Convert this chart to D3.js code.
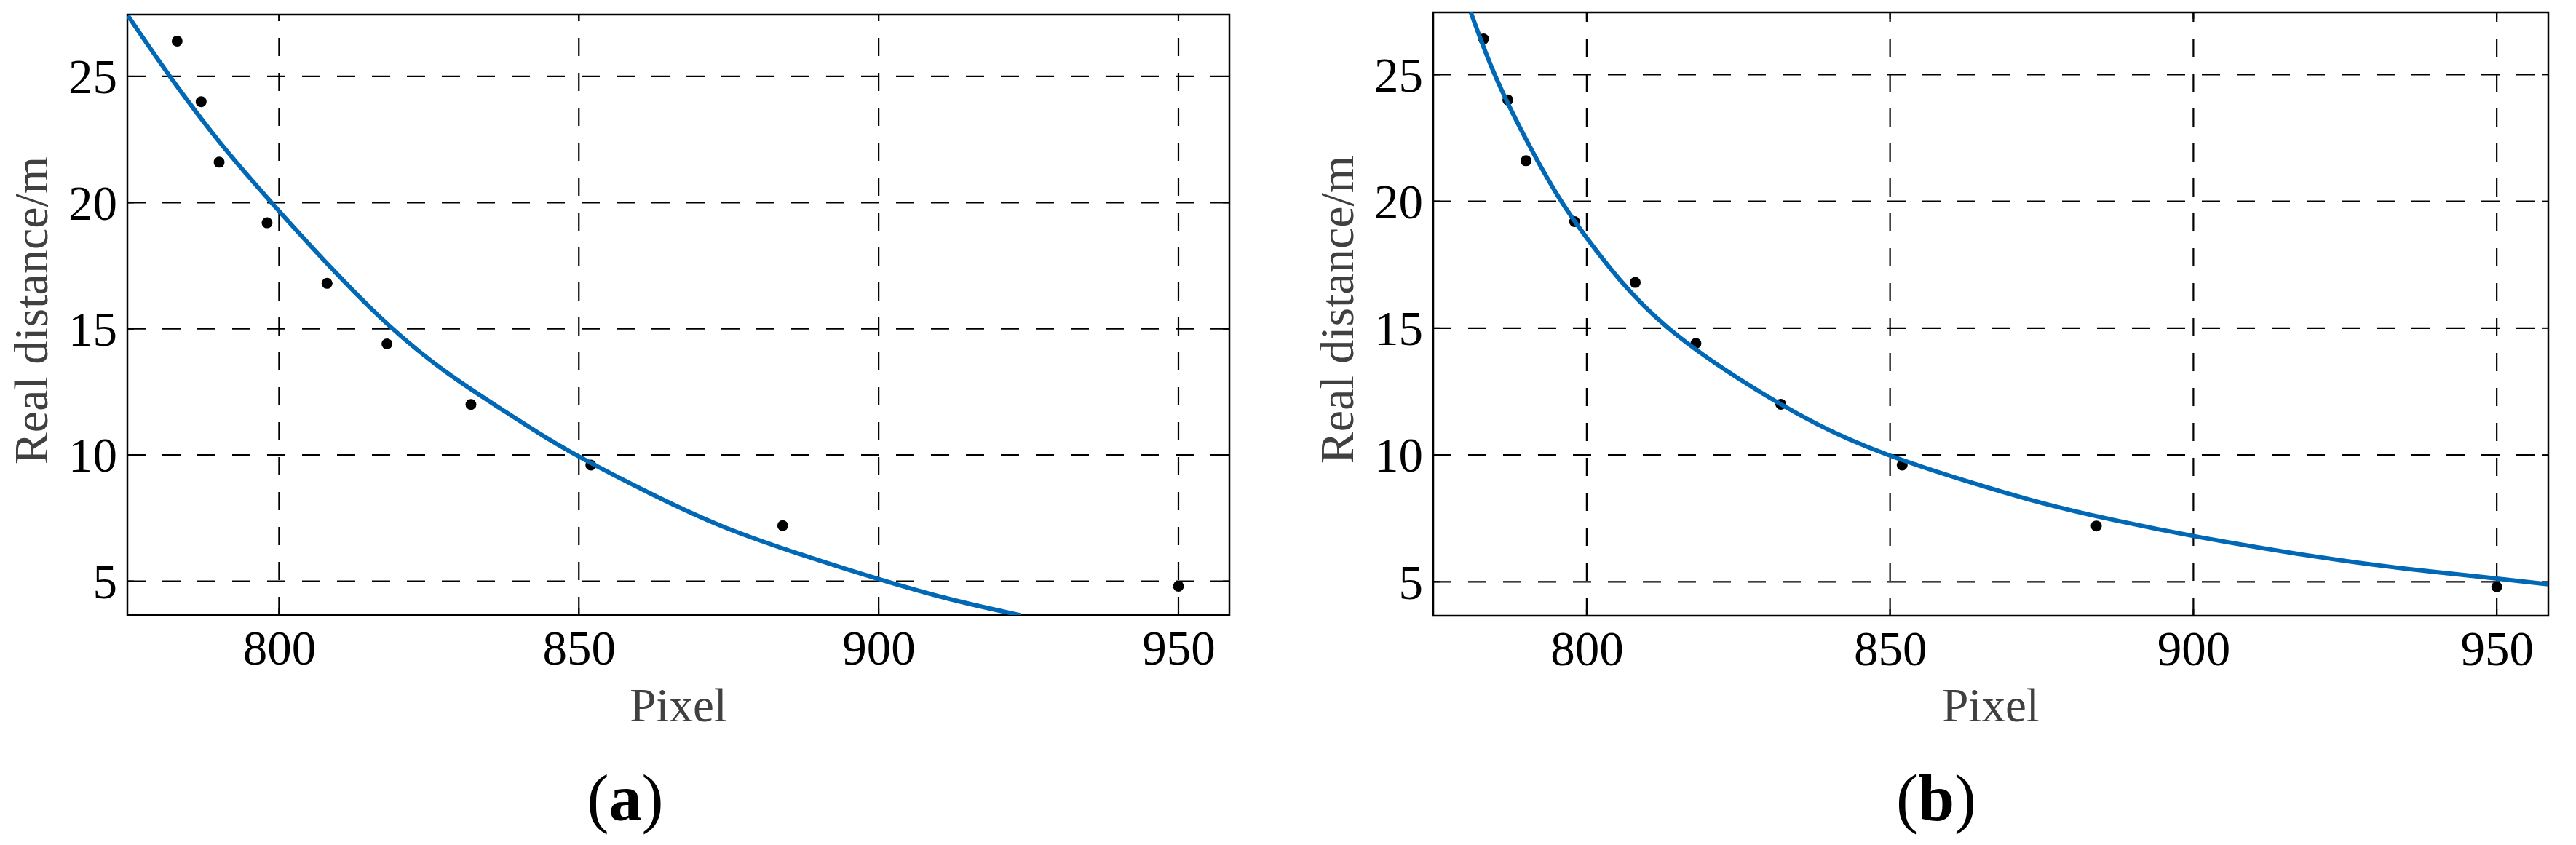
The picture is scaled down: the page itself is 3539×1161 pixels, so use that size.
<!DOCTYPE html>
<html>
<head>
<meta charset="utf-8">
<script src="https://cdn.jsdelivr.net/npm/d3@7"></script>
<style>
  html, body { margin: 0; padding: 0; background: #ffffff; }
  svg { display: block; }
  svg text { font-family: "Liberation Serif", "Times New Roman", Times, serif; }
</style>
</head>
<body>
<svg id="chart" width="3539" height="1161"></svg>
<script>
// ---------------- data ----------------
const pixelValues   = [783, 787, 790, 798, 808, 818, 832, 852, 884, 950];
const realDistances = [26.4, 24.0, 21.6, 19.2, 16.8, 14.4, 12.0, 9.6, 7.2, 4.8];

// fitted curve (a)
const fitAPixel    = [774.8, 781.7, 790, 798.7, 809, 818.6, 828, 838.5, 843.7, 850, 862, 874, 887, 900, 912, 923.7];
const fitADistance = [27.4, 25.0, 22.35, 20.0, 17.3, 15.0, 13.2, 11.6, 10.8, 9.92, 8.45, 7.1, 6.05, 5.07, 4.25, 3.65];

// fitted curve (b)
const fitBPixel    = [780.9, 784.6, 790, 795.6, 800, 805, 812.8, 825, 838.4, 849.2, 862.4, 875, 886.5, 900, 920, 932.4, 950, 958.5];
const fitBDistance = [27.45, 25.0, 22.4, 20.0, 18.55, 16.97, 15.0, 12.96, 11.09, 10.0, 8.97, 8.08, 7.44, 6.78, 5.98, 5.57, 5.13, 4.9];

const xTickValues = [800, 850, 900, 950];
const yTickValues = [5, 10, 15, 20, 25];
const xDomain = [774.7, 958.5];
const yDomain = [3.66, 27.45];
const xTitle = "Pixel";
const yTitle = "Real distance/m";
const panelLetters = ["a", "b"];

// ---------------- layout ----------------
const panels = [
  { letter: panelLetters[0], x0: 175, x1: 1689, y0: 20, y1: 845, fitX: fitAPixel, fitY: fitADistance, labelX: 859 },
  { letter: panelLetters[1], x0: 1969, x1: 3501, y0: 17, y1: 846, fitX: fitBPixel, fitY: fitBDistance, labelX: 2660 }
];

const serif = "'Liberation Serif', 'Times New Roman', Times, serif";
const svg = d3.select("#chart");
svg.append("rect").attr("width", 3539).attr("height", 1161).attr("fill", "#ffffff");

panels.forEach((p, i) => {
  const x = d3.scaleLinear().domain(xDomain).range([p.x0, p.x1]);
  const y = d3.scaleLinear().domain(yDomain).range([p.y1, p.y0]);
  const g = svg.append("g");

  const clipId = "clip" + i;
  g.append("clipPath").attr("id", clipId)
    .append("rect").attr("x", p.x0).attr("y", p.y0)
    .attr("width", p.x1 - p.x0).attr("height", p.y1 - p.y0);

  // grid lines (dashed)
  g.append("g").selectAll("line").data(yTickValues).join("line")
    .attr("x1", p.x0).attr("x2", p.x1)
    .attr("y1", d => y(d)).attr("y2", d => y(d))
    .attr("stroke", "#000").attr("stroke-width", 2.2)
    .attr("stroke-dasharray", "25,23");
  g.append("g").selectAll("line").data(xTickValues).join("line")
    .attr("x1", d => x(d)).attr("x2", d => x(d))
    .attr("y1", p.y1).attr("y2", p.y0)
    .attr("stroke", "#000").attr("stroke-width", 2.2)
    .attr("stroke-dasharray", "25,23");

  // small inner ticks on all four sides
  const tk = 9;
  g.append("g").selectAll("line").data(yTickValues).join("line")
    .attr("x1", p.x0).attr("x2", p.x0 + tk).attr("y1", d => y(d)).attr("y2", d => y(d))
    .attr("stroke", "#000").attr("stroke-width", 2);
  g.append("g").selectAll("line").data(yTickValues).join("line")
    .attr("x1", p.x1).attr("x2", p.x1 - tk).attr("y1", d => y(d)).attr("y2", d => y(d))
    .attr("stroke", "#000").attr("stroke-width", 2);
  g.append("g").selectAll("line").data(xTickValues).join("line")
    .attr("x1", d => x(d)).attr("x2", d => x(d)).attr("y1", p.y1).attr("y2", p.y1 - tk)
    .attr("stroke", "#000").attr("stroke-width", 2);
  g.append("g").selectAll("line").data(xTickValues).join("line")
    .attr("x1", d => x(d)).attr("x2", d => x(d)).attr("y1", p.y0).attr("y2", p.y0 + tk)
    .attr("stroke", "#000").attr("stroke-width", 2);

  // frame
  g.append("rect")
    .attr("x", p.x0).attr("y", p.y0)
    .attr("width", p.x1 - p.x0).attr("height", p.y1 - p.y0)
    .attr("fill", "none").attr("stroke", "#000").attr("stroke-width", 2.5);

  // axes tick labels via d3 axes
  const xAxis = d3.axisBottom(x).tickValues(xTickValues).tickSize(0).tickPadding(20).tickFormat(d3.format("d"));
  const xg = g.append("g").attr("transform", `translate(0,${p.y1})`).call(xAxis);
  xg.attr("font-family", null).attr("font-size", null);
  xg.select(".domain").remove();
  xg.selectAll("text").style("font-family", serif).style("font-size", "67px").attr("fill", "#000");

  const yAxis = d3.axisLeft(y).tickValues(yTickValues).tickSize(0).tickPadding(14).tickFormat(d3.format("d"));
  const yg = g.append("g").attr("transform", `translate(${p.x0},0)`).call(yAxis);
  yg.attr("font-family", null).attr("font-size", null);
  yg.select(".domain").remove();
  yg.selectAll("text").style("font-family", serif).style("font-size", "67px").attr("fill", "#000").attr("dy", "0.34em");

  // data points
  const pts = pixelValues.map((v, k) => [v, realDistances[k]]);
  g.append("g").attr("clip-path", `url(#${clipId})`)
    .selectAll("circle").data(pts).join("circle")
    .attr("cx", d => x(d[0])).attr("cy", d => y(d[1]))
    .attr("r", 7.5).attr("fill", "#000");

  // fitted curve
  const fit = p.fitX.map((v, k) => [v, p.fitY[k]]);
  const line = d3.line().x(d => x(d[0])).y(d => y(d[1])).curve(d3.curveBasis);
  g.append("path").attr("clip-path", `url(#${clipId})`)
    .datum(fit).attr("d", line)
    .attr("fill", "none").attr("stroke", "#0068B5").attr("stroke-width", 6)
    .attr("stroke-linejoin", "round");

  // axis titles
  const cx = (p.x0 + p.x1) / 2;
  g.append("text").attr("x", cx).attr("y", 991)
    .attr("text-anchor", "middle").style("font-family", serif).style("font-size", "65px")
    .attr("fill", "#404040").text(xTitle);
  g.append("text")
    .attr("transform", `translate(${p.x0 - 110},${(p.y0 + p.y1) / 2 - 6}) rotate(-90)`)
    .attr("text-anchor", "middle").style("font-family", serif).style("font-size", "66px")
    .attr("fill", "#404040").text(yTitle);

  // panel letter
  const lab = g.append("text").attr("x", p.labelX).attr("y", 1127)
    .attr("text-anchor", "middle").style("font-family", serif).style("font-size", "90px").attr("fill", "#000");
  lab.append("tspan").text("(");
  lab.append("tspan").attr("font-weight", "bold").text(p.letter);
  lab.append("tspan").text(")");
});
</script>
</body>
</html>
